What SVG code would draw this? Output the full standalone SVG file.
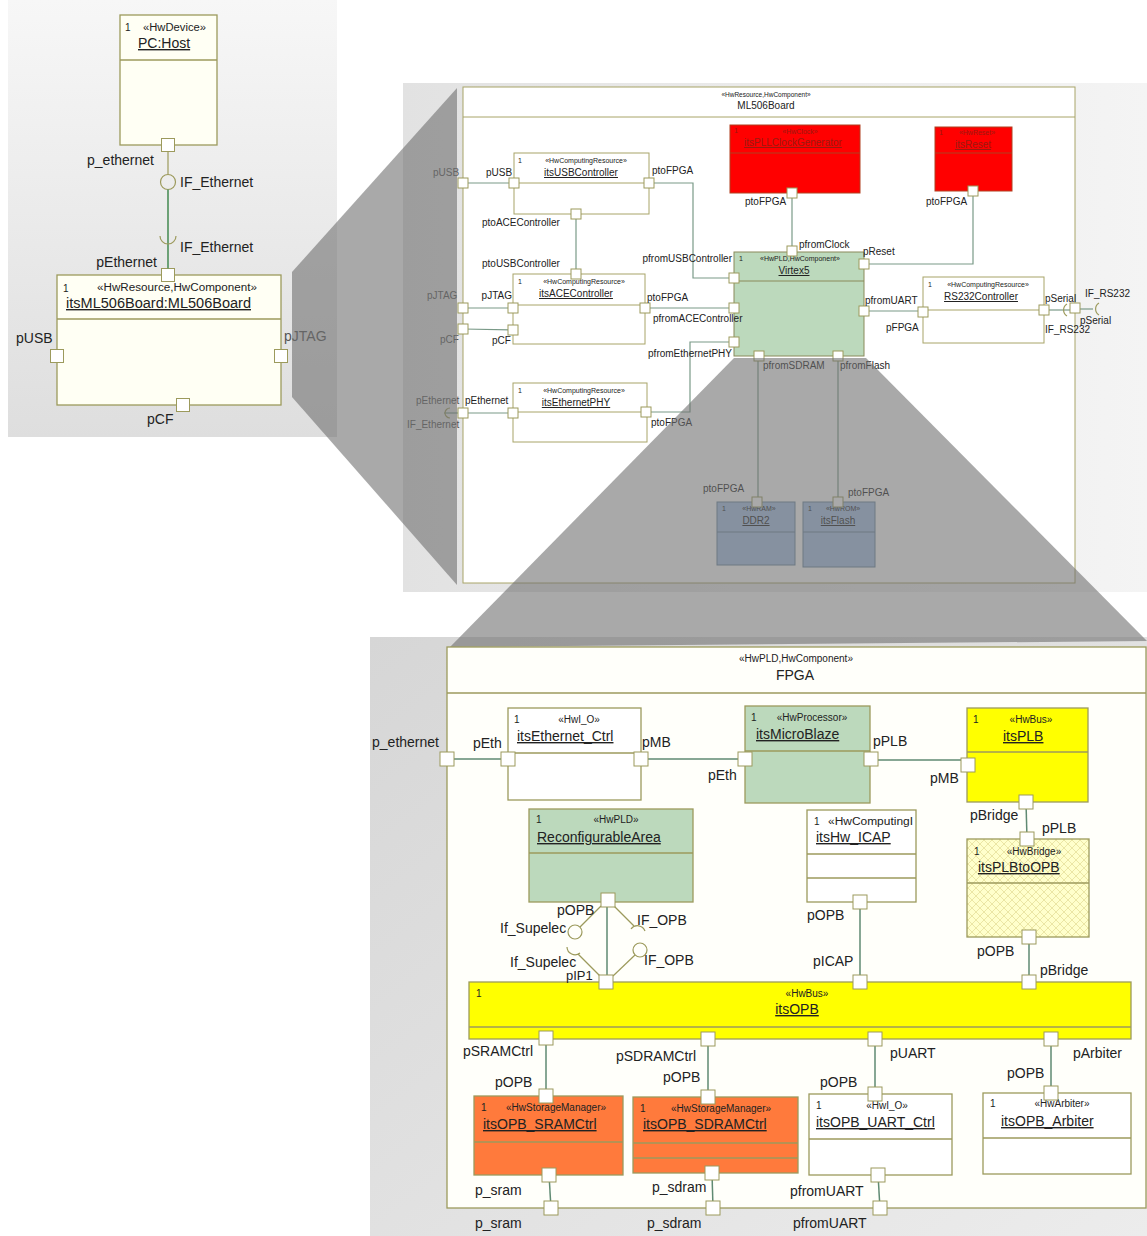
<svg xmlns="http://www.w3.org/2000/svg" width="1147" height="1236" viewBox="0 0 1147 1236">
<defs>
<linearGradient id="gL" x1="0" y1="0" x2="0" y2="1"><stop offset="0" stop-color="#f7f7f7"/><stop offset="1" stop-color="#dedede"/></linearGradient>
<linearGradient id="gM" x1="0" y1="0" x2="1" y2="0"><stop offset="0" stop-color="#e2e2e2"/><stop offset="1" stop-color="#f4f4f4"/></linearGradient>
<linearGradient id="gB" x1="0" y1="0" x2="1" y2="1"><stop offset="0" stop-color="#d6d6d6"/><stop offset="1" stop-color="#ececec"/></linearGradient>
<pattern id="hatch" width="8" height="8" patternUnits="userSpaceOnUse">
<rect width="8" height="8" fill="#ffffcc"/>
<path d="M0,0 L8,8 M8,0 L0,8" stroke="#e6df9a" stroke-width="0.8"/>
</pattern>
<style>
text{font-family:"Liberation Sans",Arial,sans-serif;fill:#222}
.l14{font-size:14px}
.l10{font-size:10px}
.s10{font-size:10px}
.s7{font-size:7px}
.u{text-decoration:underline}
.dim{fill:#555}
.box{stroke:#9c9a5c;stroke-width:1.3}
.bx{stroke:#a8a468;stroke-width:1}
.port{fill:#fff;stroke:#9c9a5c;stroke-width:1}
.conn{fill:none;stroke:#5f8a72;stroke-width:1.5}
.cb{fill:none;stroke:#7a9a88;stroke-width:1.2}
.ol{fill:none;stroke:#9c9a5c;stroke-width:1.2}
.red{fill:#ff0000;stroke:#b04020;stroke-width:1}
.rt{fill:#9a1a10}
.green{fill:#bcd9bc}
.yel{fill:#ffff00}
.org{fill:#ff7a3c}
</style>
</defs>

<rect width="1147" height="1236" fill="#ffffff"/>
<rect x="8" y="0" width="329" height="437" fill="url(#gL)"/>
<rect x="403" y="83" width="744" height="509" fill="url(#gM)"/>
<rect x="370" y="637" width="777" height="599" fill="url(#gB)"/>

<!-- Top-left nodes -->
<g id="pcHost">
<rect x="120" y="15" width="97" height="130" fill="#fffff4" class="box"/>
<line x1="120" y1="60" x2="217" y2="60" class="box"/>
<text x="125" y="31" class="s10">1</text>
<text x="143" y="31" class="s10" textLength="63" lengthAdjust="spacingAndGlyphs">«HwDevice»</text>
<text x="138" y="48" class="l14 u">PC:Host</text>
<rect x="161.5" y="138.5" width="13" height="13" class="port"/>
<text x="154" y="165" class="l14" text-anchor="end">p_ethernet</text>
</g>
<g id="board1">
<rect x="57" y="275" width="224" height="130" fill="#fffff4" class="box"/>
<line x1="57" y1="319" x2="281" y2="319" class="box"/>
<text x="63" y="292" class="s10">1</text>
<text x="97" y="291" class="s10" textLength="160" lengthAdjust="spacingAndGlyphs">«HwResource,HwComponent»</text>
<text x="66" y="308" class="l14 u" textLength="185" lengthAdjust="spacingAndGlyphs">itsML506Board:ML506Board</text>
<rect x="161.5" y="268.5" width="13" height="13" class="port"/>
<rect x="50.5" y="349.5" width="13" height="13" class="port"/>
<rect x="274.5" y="349.5" width="13" height="13" class="port"/>
<rect x="176.5" y="398.5" width="13" height="13" class="port"/>
<text x="157" y="267" class="l14" text-anchor="end">pEthernet</text>
<text x="16" y="343" class="l14">pUSB</text>
<text x="284" y="341" class="l14 dim">pJTAG</text>
<text x="147" y="424" class="l14">pCF</text>
</g>
<g id="connTopLeft">
<line x1="168" y1="152" x2="168" y2="174.5" class="ol"/>
<circle cx="168" cy="182" r="7.5" fill="#fff" class="ol"/>
<line x1="168" y1="189.5" x2="168" y2="268.5" stroke="#5f9a6a" stroke-width="1.8"/>
<path d="M160,236 A8,8 0 0,0 176,236" class="ol"/>
<text x="180" y="187" class="l14">IF_Ethernet</text>
<text x="180" y="252" class="l14">IF_Ethernet</text>
</g>

<!-- ML506Board composite -->
<g id="ml506">
<rect x="463" y="87" width="612" height="496" fill="#ffffff" class="bx"/>
<line x1="463" y1="117" x2="1075" y2="117" class="bx"/>
<text x="766" y="97" class="s7" text-anchor="middle" style="font-size:6.5px">«HwResource,HwComponent»</text>
<text x="766" y="109" class="l10" text-anchor="middle">ML506Board</text>
</g>
<g id="boardConnectors">
<polyline points="463,183 514,183" class="cb"/>
<polyline points="649,183 693,183 693,278 734,278" class="cb"/>
<polyline points="576,214 576,274" class="cb"/>
<polyline points="463,308 513,308" class="cb"/>
<polyline points="463,329 513,330" class="cb"/>
<polyline points="645,308 734,308" class="cb"/>
<polyline points="646,412 690,412 690,342 734,342" class="cb"/>
<polyline points="463,413 513,413" class="cb"/>
<polyline points="792,193 792,251" class="cb"/>
<polyline points="973,191 973,264 864,264" class="cb"/>
<polyline points="864,311 923,311" class="cb"/>
<polyline points="758,356 758,502" class="cb"/>
<polyline points="838,356 838,502" class="cb"/>
<polyline points="1044,310 1075,310" class="cb"/>
<path d="M1067,304 A7,7 0 0,0 1067,316" class="ol"/>
<polyline points="1080,309 1093,309" class="cb"/>
<path d="M1099,303 A7,7 0 0,0 1099,315" class="ol"/>
<polyline points="444,413 458,413" class="cb"/>
<path d="M450,408 A5,5 0 0,0 450,418" class="ol"/>
</g>
<g id="usbCtrl">
<rect x="514" y="153" width="135" height="61" fill="#fff" class="bx"/>
<line x1="514" y1="183" x2="649" y2="183" class="bx"/>
<text x="518" y="163" class="s7">1</text>
<text x="586" y="163" class="s7" text-anchor="middle">«HwComputingResource»</text>
<text x="581" y="176" class="l10 u" text-anchor="middle">itsUSBController</text>
</g>
<g id="aceCtrl">
<rect x="513" y="274" width="132" height="70" fill="#fff" class="bx"/>
<line x1="513" y1="305" x2="645" y2="305" class="bx"/>
<text x="518" y="284" class="s7">1</text>
<text x="584" y="284" class="s7" text-anchor="middle">«HwComputingResource»</text>
<text x="576" y="297" class="l10 u" text-anchor="middle">itsACEController</text>
</g>
<g id="ethPHY">
<rect x="513" y="383" width="134" height="59" fill="#fff" class="bx"/>
<line x1="513" y1="412" x2="647" y2="412" class="bx"/>
<text x="518" y="393" class="s7">1</text>
<text x="584" y="393" class="s7" text-anchor="middle">«HwComputingResource»</text>
<text x="576" y="406" class="l10 u" text-anchor="middle">itsEthernetPHY</text>
</g>
<g id="pllClock">
<rect x="730" y="125" width="130" height="68" class="red"/>
<line x1="730" y1="153" x2="860" y2="153" stroke="#b04020"/>
<text x="734" y="133" class="s7 rt">1</text>
<text x="800" y="134" class="s7 rt" text-anchor="middle">«HwClock»</text>
<text x="793" y="146" class="l10 u rt" text-anchor="middle">itsPLLClockGenerator</text>
</g>
<g id="reset">
<rect x="935" y="127" width="77" height="64" class="red"/>
<line x1="935" y1="153" x2="1012" y2="153" stroke="#b04020"/>
<text x="939" y="135" class="s7 rt">1</text>
<text x="977" y="135" class="s7 rt" text-anchor="middle">«HwReset»</text>
<text x="973" y="148" class="l10 u rt" text-anchor="middle">itsReset</text>
</g>
<g id="virtex5">
<rect x="734" y="252" width="130" height="104" class="green" stroke="#8a8a5a" stroke-width="1"/>
<line x1="734" y1="281" x2="864" y2="281" stroke="#8a8a5a"/>
<text x="739" y="261" class="s7">1</text>
<text x="800" y="261" class="s7" text-anchor="middle">«HwPLD,HwComponent»</text>
<text x="794" y="274" class="l10 u" text-anchor="middle">Virtex5</text>
</g>
<g id="rs232">
<rect x="923" y="277" width="121" height="66" fill="#fff" class="bx"/>
<line x1="923" y1="310" x2="1044" y2="310" class="bx"/>
<text x="928" y="287" class="s7">1</text>
<text x="988" y="287" class="s7" text-anchor="middle">«HwComputingResource»</text>
<text x="981" y="300" class="l10 u" text-anchor="middle">RS232Controller</text>
</g>
<g id="ddr2">
<rect x="717" y="502" width="78" height="63" fill="#a8c4e8" stroke="#6a86a0" stroke-width="1"/>
<line x1="717" y1="532" x2="795" y2="532" stroke="#6a86a0"/>
<text x="722" y="511" class="s7">1</text>
<text x="759" y="511" class="s7" text-anchor="middle">«HwRAM»</text>
<text x="756" y="524" class="l10 u" text-anchor="middle">DDR2</text>
</g>
<g id="flash">
<rect x="803" y="502" width="72" height="65" fill="#a8c4e8" stroke="#6a86a0" stroke-width="1"/>
<line x1="803" y1="532" x2="875" y2="532" stroke="#6a86a0"/>
<text x="808" y="511" class="s7">1</text>
<text x="843" y="511" class="s7" text-anchor="middle">«HwROM»</text>
<text x="838" y="524" class="l10 u" text-anchor="middle">itsFlash</text>
</g>
<g id="boardPorts">
<rect x="458" y="178" width="10" height="10" class="port"/>
<rect x="509" y="178" width="10" height="10" class="port"/>
<rect x="644" y="178" width="10" height="10" class="port"/>
<rect x="571" y="209" width="10" height="10" class="port"/>
<rect x="571" y="269" width="10" height="10" class="port"/>
<rect x="458" y="303" width="10" height="10" class="port"/>
<rect x="508" y="303" width="10" height="10" class="port"/>
<rect x="458" y="324" width="10" height="10" class="port"/>
<rect x="508" y="325" width="10" height="10" class="port"/>
<rect x="640" y="303" width="10" height="10" class="port"/>
<rect x="458" y="408" width="10" height="10" class="port"/>
<rect x="508" y="408" width="10" height="10" class="port"/>
<rect x="641" y="407" width="10" height="10" class="port"/>
<rect x="729" y="273" width="10" height="10" class="port"/>
<rect x="729" y="303" width="10" height="10" class="port"/>
<rect x="729" y="337" width="10" height="10" class="port"/>
<rect x="787" y="246" width="10" height="10" class="port"/>
<rect x="859" y="259" width="10" height="10" class="port"/>
<rect x="859" y="306" width="10" height="10" class="port"/>
<rect x="754" y="351" width="10" height="10" class="port"/>
<rect x="833" y="351" width="10" height="10" class="port"/>
<rect x="787" y="188" width="10" height="10" class="port"/>
<rect x="968" y="186" width="10" height="10" class="port"/>
<rect x="918" y="307" width="10" height="10" class="port"/>
<rect x="1039" y="305" width="10" height="10" class="port"/>
<rect x="1070" y="303" width="10" height="10" class="port"/>
<rect x="752" y="497" width="10" height="10" class="port"/>
<rect x="833" y="497" width="10" height="10" class="port"/>
</g>
<g id="boardLabels" class="l10">
<text x="433" y="176" class="l10 dim">pUSB</text>
<text x="486" y="176" class="l10">pUSB</text>
<text x="652" y="174" class="l10">ptoFPGA</text>
<text x="482" y="226" class="l10">ptoACEController</text>
<text x="482" y="267" class="l10">ptoUSBController</text>
<text x="732" y="262" class="l10" text-anchor="end">pfromUSBController</text>
<text x="427" y="299" class="l10 dim">pJTAG</text>
<text x="512" y="299" class="l10" text-anchor="end">pJTAG</text>
<text x="440" y="343" class="l10 dim">pCF</text>
<text x="492" y="344" class="l10">pCF</text>
<text x="647" y="301" class="l10">ptoFPGA</text>
<text x="653" y="322" class="l10">pfromACEController</text>
<text x="732" y="357" class="l10" text-anchor="end">pfromEthernetPHY</text>
<text x="416" y="404" class="l10 dim">pEthernet</text>
<text x="465" y="404" class="l10">pEthernet</text>
<text x="407" y="428" class="l10 dim">IF_Ethernet</text>
<text x="651" y="426" class="l10">ptoFPGA</text>
<text x="745" y="205" class="l10">ptoFPGA</text>
<text x="926" y="205" class="l10">ptoFPGA</text>
<text x="799" y="248" class="l10">pfromClock</text>
<text x="863" y="255" class="l10">pReset</text>
<text x="865" y="304" class="l10">pfromUART</text>
<text x="886" y="331" class="l10">pFPGA</text>
<text x="1045" y="302" class="l10">pSerial</text>
<text x="1045" y="333" class="l10">IF_RS232</text>
<text x="1085" y="297" class="l10">IF_RS232</text>
<text x="1080" y="324" class="l10">pSerial</text>
<text x="763" y="369" class="l10">pfromSDRAM</text>
<text x="840" y="369" class="l10">pfromFlash</text>
<text x="703" y="492" class="l10">ptoFPGA</text>
<text x="848" y="496" class="l10">ptoFPGA</text>
</g>

<!-- zoom overlays -->
<polygon points="292,272 457,88 457,585 292,397" fill="#707070" opacity="0.6"/>
<polygon points="734,358 866,358 1147,641 450,647" fill="#707070" opacity="0.6"/>

<!-- FPGA composite -->
<g id="fpga">
<rect x="447" y="647" width="699" height="561" fill="#fffffa" class="box"/>
<line x1="447" y1="693" x2="1146" y2="693" class="box"/>
<text x="796" y="662" class="s10" text-anchor="middle">«HwPLD,HwComponent»</text>
<text x="795" y="680" class="l14" text-anchor="middle">FPGA</text>
</g>
<g id="fpgaConnectors">
<polyline points="447,759 508,759" class="conn" stroke="#555"/>
<polyline points="641,759 745,759" class="conn"/>
<polyline points="871,760 961,760" class="conn"/>
<polyline points="1026,802 1027,839" class="conn"/>
<polyline points="860,902 860,982" class="conn"/>
<polyline points="1029,937 1029,982" class="conn"/>
<polyline points="607,900 607,982" class="conn"/>
<line x1="601" y1="906" x2="580" y2="927" class="ol"/>
<circle cx="575" cy="932" r="7" fill="#fff" class="ol"/>
<path d="M567,947 A8,8 0 0,0 580,953" class="ol"/>
<line x1="578" y1="954" x2="600" y2="976" class="ol"/>
<line x1="614" y1="906" x2="634" y2="926" class="ol"/>
<path d="M631,929 A8,8 0 0,1 645,931" class="ol"/>
<circle cx="640" cy="950" r="7" fill="#fff" class="ol"/>
<line x1="635" y1="955" x2="613" y2="976" class="ol"/>
<polyline points="546,1038 546,1096" class="conn"/>
<polyline points="549,1175 551,1208" class="conn"/>
<polyline points="708,1039 708,1097" class="conn"/>
<polyline points="712,1173 713,1208" class="conn"/>
<polyline points="875,1039 875,1094" class="conn"/>
<polyline points="878,1175 880,1208" class="conn"/>
<polyline points="1051,1039 1051,1093" class="conn"/>
</g>
<g id="ethCtrl">
<rect x="508" y="708" width="133" height="92" fill="#fff" class="box"/>
<line x1="508" y1="753" x2="641" y2="753" class="box"/>
<text x="514" y="723" class="s10">1</text>
<text x="579" y="723" class="s10" text-anchor="middle">«HwI_O»</text>
<text x="517" y="741" class="l14 u">itsEthernet_Ctrl</text>
</g>
<g id="microBlaze">
<rect x="745" y="706" width="125" height="97" class="green box"/>
<line x1="745" y1="751" x2="870" y2="751" class="box"/>
<text x="751" y="721" class="s10">1</text>
<text x="812" y="721" class="s10" text-anchor="middle">«HwProcessor»</text>
<text x="756" y="739" class="l14 u">itsMicroBlaze</text>
</g>
<g id="plb">
<rect x="967" y="708" width="121" height="94" class="yel box"/>
<line x1="967" y1="752" x2="1088" y2="752" class="box"/>
<text x="973" y="723" class="s10">1</text>
<text x="1031" y="723" class="s10" text-anchor="middle">«HwBus»</text>
<text x="1003" y="741" class="l14 u">itsPLB</text>
</g>
<g id="reconfArea">
<rect x="529" y="809" width="164" height="93" class="green box"/>
<line x1="529" y1="853" x2="693" y2="853" class="box"/>
<text x="536" y="823" class="s10">1</text>
<text x="616" y="823" class="s10" text-anchor="middle">«HwPLD»</text>
<text x="537" y="842" class="l14 u">ReconfigurableArea</text>
</g>
<g id="hwICAP">
<rect x="807" y="810" width="109" height="92" fill="#fff" class="box"/>
<line x1="807" y1="854" x2="916" y2="854" class="box"/>
<line x1="807" y1="878" x2="916" y2="878" class="box"/>
<text x="814" y="825" class="s10">1</text>
<text x="828" y="825" class="s10" textLength="85" lengthAdjust="spacingAndGlyphs">«HwComputingI</text>
<text x="816" y="842" class="l14 u">itsHw_ICAP</text>
</g>
<g id="plbToOpb">
<rect x="967" y="839" width="122" height="98" fill="url(#hatch)" class="box"/>
<line x1="967" y1="883" x2="1089" y2="883" class="box"/>
<text x="974" y="855" class="s10">1</text>
<text x="1034" y="855" class="s10" text-anchor="middle">«HwBridge»</text>
<text x="978" y="872" class="l14 u">itsPLBtoOPB</text>
</g>
<g id="opb">
<rect x="469" y="982" width="662" height="57" class="yel box"/>
<line x1="469" y1="1027" x2="1131" y2="1027" class="box"/>
<text x="476" y="997" class="s10">1</text>
<text x="807" y="997" class="s10" text-anchor="middle">«HwBus»</text>
<text x="797" y="1014" class="l14 u" text-anchor="middle">itsOPB</text>
</g>
<g id="sramCtrl">
<rect x="474" y="1096" width="149" height="79" class="org box"/>
<line x1="474" y1="1142" x2="623" y2="1142" class="box"/>
<text x="481" y="1111" class="s10">1</text>
<text x="556" y="1111" class="s10" text-anchor="middle">«HwStorageManager»</text>
<text x="483" y="1129" class="l14 u">itsOPB_SRAMCtrl</text>
</g>
<g id="sdramCtrl">
<rect x="633" y="1097" width="165" height="76" class="org box"/>
<line x1="633" y1="1143" x2="798" y2="1143" class="box"/>
<line x1="633" y1="1158" x2="798" y2="1158" class="box"/>
<text x="640" y="1112" class="s10">1</text>
<text x="721" y="1112" class="s10" text-anchor="middle">«HwStorageManager»</text>
<text x="643" y="1129" class="l14 u">itsOPB_SDRAMCtrl</text>
</g>
<g id="uartCtrl">
<rect x="809" y="1094" width="143" height="81" fill="#fff" class="box"/>
<line x1="809" y1="1139" x2="952" y2="1139" class="box"/>
<text x="816" y="1109" class="s10">1</text>
<text x="887" y="1109" class="s10" text-anchor="middle">«HwI_O»</text>
<text x="816" y="1127" class="l14 u">itsOPB_UART_Ctrl</text>
</g>
<g id="arbiter">
<rect x="983" y="1093" width="148" height="81" fill="#fff" class="box"/>
<line x1="983" y1="1138" x2="1131" y2="1138" class="box"/>
<text x="990" y="1107" class="s10">1</text>
<text x="1062" y="1107" class="s10" text-anchor="middle">«HwArbiter»</text>
<text x="1001" y="1126" class="l14 u">itsOPB_Arbiter</text>
</g>
<g id="fpgaPorts">
<rect x="440" y="752" width="14" height="14" class="port"/>
<rect x="501" y="752" width="14" height="14" class="port"/>
<rect x="634" y="752" width="14" height="14" class="port"/>
<rect x="738" y="752" width="14" height="14" class="port"/>
<rect x="864" y="752" width="14" height="14" class="port"/>
<rect x="961" y="758" width="14" height="14" class="port"/>
<rect x="1019" y="795" width="14" height="14" class="port"/>
<rect x="1020" y="832" width="14" height="14" class="port"/>
<rect x="1022" y="930" width="14" height="14" class="port"/>
<rect x="1022" y="975" width="14" height="14" class="port"/>
<rect x="853" y="895" width="14" height="14" class="port"/>
<rect x="853" y="975" width="14" height="14" class="port"/>
<rect x="601" y="893" width="14" height="14" class="port"/>
<rect x="599" y="975" width="14" height="14" class="port"/>
<rect x="539" y="1031" width="14" height="14" class="port"/>
<rect x="701" y="1032" width="14" height="14" class="port"/>
<rect x="868" y="1032" width="14" height="14" class="port"/>
<rect x="1044" y="1032" width="14" height="14" class="port"/>
<rect x="539" y="1089" width="14" height="14" class="port"/>
<rect x="701" y="1090" width="14" height="14" class="port"/>
<rect x="868" y="1087" width="14" height="14" class="port"/>
<rect x="1044" y="1086" width="14" height="14" class="port"/>
<rect x="542" y="1168" width="14" height="14" class="port"/>
<rect x="705" y="1166" width="14" height="14" class="port"/>
<rect x="871" y="1168" width="14" height="14" class="port"/>
<rect x="544" y="1201" width="14" height="14" class="port"/>
<rect x="706" y="1201" width="14" height="14" class="port"/>
<rect x="873" y="1201" width="14" height="14" class="port"/>
</g>
<g id="fpgaLabels">
<text x="439" y="747" class="l14" text-anchor="end">p_ethernet</text>
<text x="473" y="748" class="l14">pEth</text>
<text x="642" y="747" class="l14">pMB</text>
<text x="708" y="780" class="l14">pEth</text>
<text x="873" y="746" class="l14">pPLB</text>
<text x="930" y="783" class="l14">pMB</text>
<text x="970" y="820" class="l14">pBridge</text>
<text x="1042" y="833" class="l14">pPLB</text>
<text x="977" y="956" class="l14">pOPB</text>
<text x="1040" y="975" class="l14">pBridge</text>
<text x="807" y="920" class="l14">pOPB</text>
<text x="813" y="966" class="l14">pICAP</text>
<text x="557" y="915" class="l14">pOPB</text>
<text x="500" y="933" class="l14">If_Supelec</text>
<text x="637" y="925" class="l14">IF_OPB</text>
<text x="510" y="967" class="l14">If_Supelec</text>
<text x="644" y="965" class="l14">IF_OPB</text>
<text x="566" y="980" class="l14" style="font-size:13px">pIP1</text>
<text x="463" y="1056" class="l14">pSRAMCtrl</text>
<text x="495" y="1087" class="l14">pOPB</text>
<text x="616" y="1061" class="l14">pSDRAMCtrl</text>
<text x="663" y="1082" class="l14">pOPB</text>
<text x="890" y="1058" class="l14">pUART</text>
<text x="820" y="1087" class="l14">pOPB</text>
<text x="1073" y="1058" class="l14">pArbiter</text>
<text x="1007" y="1078" class="l14">pOPB</text>
<text x="475" y="1195" class="l14">p_sram</text>
<text x="652" y="1192" class="l14">p_sdram</text>
<text x="790" y="1196" class="l14">pfromUART</text>
<text x="475" y="1228" class="l14">p_sram</text>
<text x="647" y="1228" class="l14">p_sdram</text>
<text x="793" y="1228" class="l14">pfromUART</text>
</g>
</svg>
